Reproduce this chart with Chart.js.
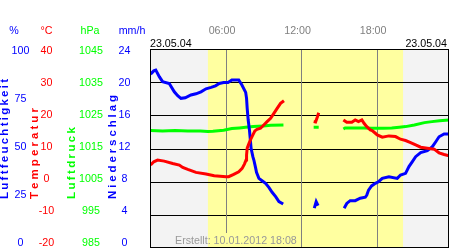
<!DOCTYPE html>
<html>
<head>
<meta charset="utf-8">
<script src="https://cdn.jsdelivr.net/npm/chart.js@4"></script>
<style>
  html, body { margin: 0; padding: 0; background: #fff; }
  #wrap { width: 450px; height: 250px; }
</style>
</head>
<body>
<div id="wrap"><canvas id="wetter" width="450" height="250"></canvas></div>
<script>
// --- data (hours of the day 23.05.04, null = gap) ---
const humHours = [0.05,0.3,0.46,0.75,1.0,1.53,1.93,2.2,2.46,2.8,3.25,3.65,4.05,4.45,4.85,5.2,5.5,5.85,6.2,6.5,7.05,7.3,7.6,7.67,7.72,7.8,7.9,8.03,8.17,8.25,8.38,8.46,8.65,8.9,9.18,9.44,9.7,9.98,10.24,10.58,11.5,13.05,13.2,13.35,14.5,15.42,15.63,15.9,16.3,16.7,17.1,17.22,17.36,17.6,17.9,18.15,18.45,18.98,19.64,19.9,20.3,20.57,20.84,21.1,21.5,22.03,22.43,22.7,22.96,23.36,23.75];
const humValues = [87.4,89,89.4,86,83.6,82.7,78.5,76.5,75.2,75.5,76.9,77.5,78.5,80,80.7,81.5,82.7,83.2,83.2,84.4,84.4,81.9,78.2,75.2,70.2,64.3,59.3,50.1,45.9,44.2,40.5,38,35,33.8,32.5,30.5,28,25.8,23.3,22.1,null,20,23.3,21.3,null,20,22.4,23.8,23.8,25,25.5,26.6,29.1,31.2,32.5,33.3,35,35.8,35,36.7,37.5,40.9,43.4,45.9,47.9,48.9,50.9,53.4,55.9,57.3,57.3];

const tempHours = [0.05,0.3,0.6,1.13,1.8,2.33,2.6,3.0,3.65,4.45,5.1,6.04,6.25,6.65,7.05,7.32,7.5,7.63,7.67,7.72,7.85,7.98,8.17,8.33,8.5,8.78,9.04,9.3,9.58,9.84,10.1,10.37,10.64,11.5,13.0,13.15,13.3,13.4,14.5,15.36,15.63,16.03,16.3,16.56,16.83,17.0,17.22,17.5,17.65,17.9,18.05,18.45,18.98,19.5,19.9,20.3,20.7,21.1,21.5,22.03,22.57,22.96,23.36,23.75];
const tempValues = [5.0,6.0,6.5,6.2,5.5,5.0,4.3,3.7,2.8,2.3,1.8,1.5,1.5,2.2,3.0,4.0,5.3,6.5,8.0,10.1,11.4,12.6,14.1,15.3,15.8,16.1,17.1,18.1,19.1,20.6,22.1,23.6,24.4,null,18.1,18.0,19.6,20.8,null,18.6,17.9,17.9,18.6,18.1,18.6,17.6,16.6,15.6,15.4,14.6,14.1,13.4,13.8,13.6,12.8,12.4,11.8,11.1,10.4,10.1,9.8,8.7,8.2,7.8];

const presHours = [0.05,1,2,3,4,4.6,5,5.85,6.5,7.1,7.6,8.2,9.0,9.6,10.6,11.5,13.0,13.4,14.5,15.36,15.5,17.0,17.6,18.5,19.2,19.8,20.3,21.0,21.8,22.4,23.0,23.75];
const presValues = [1020.4,1020.3,1020.4,1020.3,1020.3,1020.1,1020.2,1020.5,1021.0,1021.2,1021.4,1021.6,1021.8,1022.0,1022.1,null,1021.4,1021.4,null,1020.9,1021.2,1021.2,1021.1,1021.1,1021.2,1021.4,1021.6,1022.1,1022.8,1023.1,1023.4,1023.6];

// tick labels of the four left axes
const humTicks  = [0, 25, 50, 75, 100];
const tempTicks = [-20, -10, 0, 10, 20, 30, 40];
const presTicks = [985, 995, 1005, 1015, 1025, 1035, 1045];
const rainTicks = [0, 4, 8, 12, 16, 20, 24];
const timeTicks = [6, 12, 18];
const timeLabels = ['06:00', '12:00', '18:00'];

const sunrise = 4.6, sunset = 20.1;
const dateLabel = '23.05.04';
const createdLabel = 'Erstellt: 10.01.2012 18:08';

const FONT = '"Liberation Sans", Arial, sans-serif';
const BLUE = '#0000ff', RED = '#ff0000', GREEN = '#00ff00';

const toPoints = (xs, ys) => xs.map((h, i) => ({ x: h, y: ys[i] }));

/* === background, day band, grid === */
const backdrop = {
    id: 'backdrop',
    beforeDatasetsDraw(chart) {
        const { ctx, chartArea: a, scales } = chart;
        const x = scales.x, yT = scales.yTemp;
        ctx.save();
        ctx.fillStyle = '#f3f3f3';
        ctx.fillRect(a.left, a.top, a.right - a.left, a.bottom - a.top);
        const x1 = x.getPixelForValue(sunrise), x2 = x.getPixelForValue(sunset);
        ctx.fillStyle = '#ffffa0';
        ctx.fillRect(x1, a.top, x2 - x1, a.bottom - a.top);

        ctx.lineWidth = 1;
        ctx.strokeStyle = '#000';
        tempTicks.slice(1, -1).forEach(v => {
            const y = Math.round(yT.getPixelForValue(v)) + 0.5;
            ctx.beginPath(); ctx.moveTo(a.left, y); ctx.lineTo(a.right, y); ctx.stroke();
        });
        ctx.strokeStyle = '#808080';
        timeTicks.forEach(h => {
            const px = Math.round(x.getPixelForValue(h)) + 0.5;
            ctx.beginPath(); ctx.moveTo(px, a.top); ctx.lineTo(px, a.bottom); ctx.stroke();
        });

        // patch under the "Erstellt" text
        const tx1 = 172, tx2 = 300, ty1 = 233, ty2 = a.bottom - 1;
        ctx.fillStyle = '#f3f3f3';
        ctx.fillRect(tx1, ty1, Math.min(x1, tx2) - tx1, ty2 - ty1);
        ctx.fillStyle = '#ffffa0';
        ctx.fillRect(x1, ty1, tx2 - x1, ty2 - ty1);
        ctx.restore();
    },
    afterDatasetsDraw(chart) {
        const { ctx, chartArea: a } = chart;
        ctx.save();
        ctx.strokeStyle = '#000';
        ctx.lineWidth = 1;
        ctx.strokeRect(a.left + 0.5, a.top + 0.5, a.right - a.left - 1, a.bottom - a.top - 1);
        ctx.restore();
    }
};

/* === axis labels and titles === */
function drawVertical(ctx, text, cx, yBottom, length, color) {
    ctx.save();
    ctx.font = 'bold 11.5px ' + FONT;
    ctx.fillStyle = color;
    ctx.textBaseline = 'middle';
    ctx.textAlign = 'left';
    ctx.translate(cx, yBottom);
    ctx.rotate(-Math.PI / 2);
    const chars = [...text];
    const w = ctx.measureText(text).width;
    const sp = (length - w) / (chars.length - 1);
    let pos = 0;
    chars.forEach(c => {
        ctx.fillText(c, pos, 0);
        pos += ctx.measureText(c).width + sp;
    });
    ctx.restore();
}

const labels = {
    id: 'labels',
    afterDraw(chart) {
        const { ctx, chartArea: a, scales } = chart;
        const labelY = px => a.top + 2 + (px - a.top) * 0.967;
        ctx.save();
        ctx.font = '10.7px ' + FONT;
        ctx.textBaseline = 'middle';
        ctx.textAlign = 'center';

        // units
        [['%', 14, BLUE], ['°C', 46.5, RED], ['hPa', 90, GREEN], ['mm/h', 132, BLUE]].forEach(([t, x, c]) => {
            ctx.fillStyle = c; ctx.fillText(t, x, 31);
        });

        ctx.fillStyle = BLUE;
        humTicks.forEach(v => ctx.fillText(String(v), 20.5, labelY(scales.yHum.getPixelForValue(v))));
        ctx.fillStyle = RED;
        tempTicks.forEach(v => ctx.fillText(String(v), 46.5, labelY(scales.yTemp.getPixelForValue(v))));
        ctx.fillStyle = GREEN;
        presTicks.forEach(v => ctx.fillText(String(v), 91, labelY(scales.yPres.getPixelForValue(v))));
        ctx.fillStyle = BLUE;
        rainTicks.forEach(v => ctx.fillText(String(v), 124.5, labelY(scales.yRain.getPixelForValue(v))));

        // time labels
        ctx.fillStyle = '#808080';
        timeTicks.forEach((h, i) => ctx.fillText(timeLabels[i], scales.x.getPixelForValue(h) - 3.5, 31));

        // dates
        ctx.fillStyle = '#000';
        ctx.textAlign = 'left';
        ctx.fillText(dateLabel, a.left, 44);
        ctx.textAlign = 'right';
        ctx.fillText(dateLabel, 447, 44);

        // created
        ctx.fillStyle = '#999';
        ctx.textAlign = 'left';
        ctx.fillText(createdLabel, 175, 241);
        ctx.restore();

        drawVertical(ctx, 'Luftfeuchtigkeit', 5, 199, 120, BLUE);
        drawVertical(ctx, 'Temperatur', 34.5, 199, 90, RED);
        drawVertical(ctx, 'Luftdruck', 72, 199, 72, GREEN);
        drawVertical(ctx, 'Niederschlag', 113, 199, 104, BLUE);
    }
};

const series = (label, pts, color, axis, order) => ({
    label, data: pts, yAxisID: axis, order,
    borderColor: color, backgroundColor: color,
    borderWidth: 3, pointRadius: 0, showLine: true, spanGaps: false, tension: 0
});

new Chart(document.getElementById('wetter'), {
    type: 'scatter',
    data: {
        datasets: [
            series('Temperatur', toPoints(tempHours, tempValues), RED, 'yTemp', 0),
            series('Luftfeuchtigkeit', toPoints(humHours, humValues), BLUE, 'yHum', 1),
            series('Luftdruck', toPoints(presHours, presValues), GREEN, 'yPres', 2)
        ]
    },
    options: {
        responsive: false,
        animation: false,
        devicePixelRatio: 1,
        layout: { padding: { left: 150, top: 49, right: 1, bottom: 2 } },
        scales: {
            x: { type: 'linear', min: 0, max: 23.75, display: false },
            yTemp: { type: 'linear', min: -20, max: 40, display: false },
            yHum: { type: 'linear', min: 0, max: 100, display: false },
            yPres: { type: 'linear', min: 985, max: 1045, display: false },
            yRain: { type: 'linear', min: 0, max: 24, display: false }
        },
        plugins: { legend: { display: false }, tooltip: { enabled: false } }
    },
    plugins: [backdrop, labels]
});
</script>
</body>
</html>
